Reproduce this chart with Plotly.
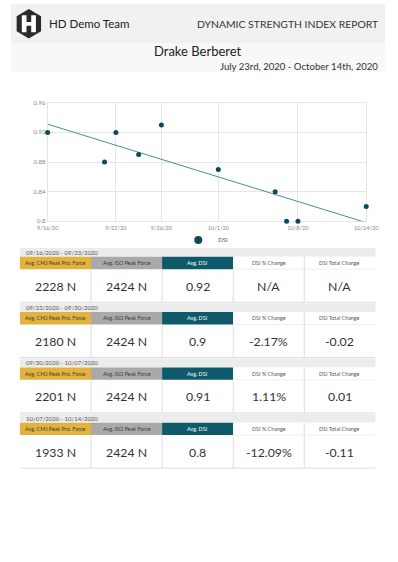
import numpy as np
import pandas as pd
import plotly.graph_objects as go

# ---------------- data ----------------
dates = ['2020-09-16', '2020-09-21', '2020-09-22', '2020-09-24', '2020-09-26',
         '2020-10-01', '2020-10-06', '2020-10-07', '2020-10-08', '2020-10-14']
dsi = [0.92, 0.88, 0.92, 0.89, 0.93, 0.87, 0.84, 0.80, 0.80, 0.82]

x_tickvals = ['2020-09-16', '2020-09-22', '2020-09-26', '2020-10-01', '2020-10-08', '2020-10-14']
x_ticktext = ['9/16/20', '9/22/20', '9/26/20', '10/1/20', '10/8/20', '10/14/20']
y_tickvals = [0.8, 0.84, 0.88, 0.92, 0.96]
y_ticktext = ['0.8', '0.84', '0.88', '0.92', '0.96']

periods = ['09/16/2020 - 09/23/2020', '09/23/2020 - 09/30/2020',
           '09/30/2020 - 10/07/2020', '10/07/2020 - 10/14/2020']
cmj_force = ['2228 N', '2180 N', '2201 N', '1933 N']
iso_force = ['2424 N', '2424 N', '2424 N', '2424 N']
avg_dsi = ['0.92', '0.9', '0.91', '0.8']
dsi_pct_change = ['N/A', '-2.17%', '1.11%', '-12.09%']
dsi_total_change = ['N/A', '-0.02', '0.01', '-0.11']
col_headers = ['Avg. CMJ Peak Pro. Force', 'Avg. ISO Peak Force', 'Avg. DSI',
               'DSI % Change', 'DSI Total Change']

team = 'HD Demo Team'
report_title = 'DYNAMIC STRENGTH INDEX REPORT'
athlete = 'Drake Berberet'
date_range = 'July 23rd, 2020 - October 14th, 2020'

# ---------------- geometry helpers ----------------
W, H = 398, 562
FONT = 'Lato'


def px(x):
    return x / W


def py(y):
    return 1 - y / H


shapes = []
annotations = []


def rect(x0, y0, x1, y1, fill, line=None, lw=0):
    shapes.append(dict(type='rect', xref='paper', yref='paper',
                       x0=px(x0), x1=px(x1), y0=py(y1), y1=py(y0),
                       fillcolor=fill, line=dict(width=lw, color=line or fill),
                       layer='below'))


def hline(x0, x1, y, color, w=1):
    shapes.append(dict(type='line', xref='paper', yref='paper',
                       x0=px(x0), x1=px(x1), y0=py(y), y1=py(y),
                       line=dict(color=color, width=w)))


def vline(x, y0, y1, color, w=1):
    shapes.append(dict(type='line', xref='paper', yref='paper',
                       x0=px(x), x1=px(x), y0=py(y0), y1=py(y1),
                       line=dict(color=color, width=w)))


def text(x, y, s, size, color, xanchor='left', yanchor='middle'):
    annotations.append(dict(xref='paper', yref='paper', x=px(x), y=py(y),
                            text=s, showarrow=False, xanchor=xanchor, yanchor=yanchor,
                            font=dict(family=FONT, size=size, color=color)))


# ---------------- header ----------------
rect(0, 0, W, 40, '#f1f1f1')
rect(0, 40, W, 69, '#f8f8f8')

# logo: hexagon with an H
cx, cy, r = 19, 20, 15
hex_pts = []
for k in range(6):
    ang = np.deg2rad(90 + 60 * k)
    hex_pts.append((cx + r * np.cos(ang), cy - r * np.sin(ang)))
path = 'M ' + ' L '.join(f'{px(x):.5f},{py(y):.5f}' for x, y in hex_pts) + ' Z'
shapes.append(dict(type='path', xref='paper', yref='paper', path=path,
                   fillcolor='#2a2a2a', line=dict(color='#2a2a2a', width=0)))
h_pts = [(11.5, 11.5), (16.5, 11.5), (16.5, 18.3), (21.5, 18.3), (21.5, 11.5), (26.5, 11.5),
         (26.5, 28.5), (21.5, 28.5), (21.5, 22.0), (16.5, 22.0), (16.5, 28.5), (11.5, 28.5)]
path = 'M ' + ' L '.join(f'{px(x):.5f},{py(y):.5f}' for x, y in h_pts) + ' Z'
shapes.append(dict(type='path', xref='paper', yref='paper', path=path,
                   fillcolor='white', line=dict(color='white', width=0)))

text(38, 20, team, 11.5, '#222222')
text(393, 20, report_title, 10.4, '#333333', xanchor='right')
text(199, 48, athlete, 13, '#222222', xanchor='center')
text(393, 63, date_range, 9.6, '#333333', xanchor='right')

# ---------------- tables ----------------
col_x = [9.5 + i * 75.65 for i in range(6)]
head_fill = ['#e3b23c', '#a9a9a9', '#0e5a6a', '#ffffff', '#ffffff']
head_font = ['#3a3a3a', '#3a3a3a', '#ffffff', '#555555', '#555555']
grid_c = '#dddddd'
rows = list(zip(cmj_force, iso_force, avg_dsi, dsi_pct_change, dsi_total_change))
for b, (period, vals) in enumerate(zip(periods, rows)):
    top = 247 + 56 * b
    band_b = top + 9
    head_b = band_b + 12.5
    val_b = head_b + 33.5
    rect(col_x[0], top, col_x[-1], band_b, '#ececec')
    text(col_x[0] + 4.5, (top + band_b) / 2, period, 6, '#555555')
    for c in range(5):
        rect(col_x[c], band_b, col_x[c + 1], head_b, head_fill[c])
        text((col_x[c] + col_x[c + 1]) / 2, (band_b + head_b) / 2, col_headers[c], 5.4, head_font[c],
             xanchor='center')
        text((col_x[c] + col_x[c + 1]) / 2, (head_b + val_b) / 2 + 0.5, vals[c], 12.3, '#333333',
             xanchor='center')
    vline(col_x[4], band_b, head_b, grid_c)
    hline(col_x[3], col_x[5], head_b, '#eeeeee')
    for c in range(1, 5):
        vline(col_x[c], head_b, val_b, grid_c)
    hline(col_x[0], col_x[-1], val_b, grid_c)

# ---------------- chart ----------------
d = pd.to_datetime(dates)
days = np.array((d - d[0]).days, dtype=float)
slope, intercept = np.polyfit(days, np.array(dsi), 1)
trend_x = [dates[0], dates[-1]]
trend_y = [intercept, intercept + slope * days[-1]]

fig = go.Figure()
fig.add_trace(go.Scatter(x=trend_x, y=trend_y, mode='lines', showlegend=False,
                         line=dict(color='#4b8f8f', width=1), hoverinfo='skip'))
fig.add_trace(go.Scatter(x=dates, y=dsi, mode='markers', name='DSI', cliponaxis=False,
                         showlegend=False, marker=dict(color='#0d4a58', size=5)))
# legend entry (larger symbol as in the original legend)
fig.add_trace(go.Scatter(x=[None], y=[None], mode='markers', name='DSI',
                         marker=dict(color='#0d4a58', size=8)))

grid = '#e6e6e6'
fig.update_layout(
    width=W, height=H,
    margin=dict(l=0, r=0, t=0, b=0),
    paper_bgcolor='white', plot_bgcolor='white',
    font=dict(family=FONT),
    xaxis=dict(domain=[px(39), px(378)], type='date',
               range=[x_tickvals[0], x_tickvals[-1]],
               tickmode='array', tickvals=x_tickvals, ticktext=x_ticktext,
               showgrid=True, gridcolor=grid, gridwidth=1,
               showline=True, linecolor=grid, mirror=True, zeroline=False,
               layer='below traces', ticklabeloverflow='allow',
               tickfont=dict(size=5.6, color='#888888'), ticks='', ticklabelstandoff=1),
    yaxis=dict(domain=[py(220), py(100)], range=[0.8, 0.96],
               tickmode='array', tickvals=y_tickvals, ticktext=y_ticktext,
               showgrid=True, gridcolor=grid, gridwidth=1,
               showline=True, linecolor=grid, mirror=True, zeroline=False,
               layer='below traces',
               tickfont=dict(size=6, color='#888888'), ticks=''),
    showlegend=True,
    legend=dict(orientation='h', x=px(178), xanchor='left', y=py(239), yanchor='middle',
                font=dict(size=6, color='#555555'), itemsizing='trace', itemwidth=30,
                bgcolor='rgba(0,0,0,0)'),
    shapes=shapes, annotations=annotations,
)

fig.write_html('out.html', config={'displayModeBar': False},
               post_script="document.documentElement.style.margin='0';"
                           "document.body.style.margin='0';"
                           "document.body.style.overflow='hidden';window.scrollTo(0,0);")
